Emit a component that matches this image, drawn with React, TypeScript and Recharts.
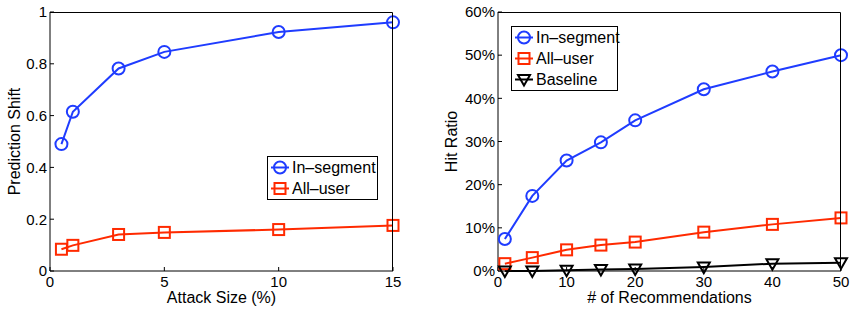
import React from 'react';
import { LineChart, Line, XAxis, YAxis, Legend } from 'recharts';

// left panel: prediction shift vs attack size
const attackSizes = [0.5, 1, 3, 5, 10, 15];
const shiftInSegment = [0.49, 0.615, 0.782, 0.846, 0.923, 0.96];
const shiftAllUser = [0.084, 0.099, 0.141, 0.149, 0.16, 0.176];
const attackTicks = [0, 5, 10, 15];
const shiftTicks = [0, 0.2, 0.4, 0.6, 0.8, 1];

// right panel: hit ratio (%) vs number of recommendations
const recCounts = [1, 5, 10, 15, 20, 30, 40, 50];
const hitInSegment = [7.4, 17.4, 25.6, 29.8, 34.9, 42.1, 46.2, 50];
const hitAllUser = [1.7, 3.1, 4.9, 6.0, 6.7, 9.0, 10.8, 12.3];
const hitBaseline = [0, 0, 0.15, 0.35, 0.45, 0.9, 1.7, 1.9];
const recTicks = [0, 10, 20, 30, 40, 50];
const hitTicks = [0, 10, 20, 30, 40, 50, 60];

const FONT = '"Liberation Sans", Arial, Helvetica, sans-serif';
const BLUE = '#1f3cff';
const RED = '#ff2a00';
const BLACK = '#000000';

const CHART_W = 425;
const CHART_H = 310;
const X_AXIS_H = 31;

type Shape = 'circle' | 'square' | 'triangle';

interface SeriesDef {
  key: string;
  name: string;
  color: string;
  shape: Shape;
}

const leftSeries: SeriesDef[] = [
  { key: 'inSeg', name: 'In–segment', color: BLUE, shape: 'circle' },
  { key: 'allUser', name: 'All–user', color: RED, shape: 'square' },
];

const rightSeries: SeriesDef[] = [
  { key: 'inSeg', name: 'In–segment', color: BLUE, shape: 'circle' },
  { key: 'allUser', name: 'All–user', color: RED, shape: 'square' },
  { key: 'baseline', name: 'Baseline', color: BLACK, shape: 'triangle' },
];

const leftData = attackSizes.map((x, i) => ({
  x,
  inSeg: shiftInSegment[i],
  allUser: shiftAllUser[i],
}));

const rightData = recCounts.map((x, i) => ({
  x,
  inSeg: hitInSegment[i],
  allUser: hitAllUser[i],
  baseline: hitBaseline[i],
}));

const Marker = ({ shape, cx, cy, color }: { shape: Shape; cx: number; cy: number; color: string }) => {
  if (shape === 'circle') {
    return <circle cx={cx} cy={cy} r={6} fill="none" stroke={color} strokeWidth={2} />;
  }
  if (shape === 'square') {
    return <rect x={cx - 5.5} y={cy - 5.5} width={11} height={11} fill="none" stroke={color} strokeWidth={2} />;
  }
  return (
    <polygon
      points={`${cx - 6},${cy - 4.5} ${cx + 6},${cy - 4.5} ${cx},${cy + 6}`}
      fill="none"
      stroke={color}
      strokeWidth={2}
    />
  );
};

const dotFor = (s: SeriesDef) => (props: any) => {
  const { cx, cy, index } = props;
  if (cx == null || cy == null) return <g key={index} />;
  return <Marker key={index} shape={s.shape} cx={cx} cy={cy} color={s.color} />;
};

const LegendBox = ({ items, width }: { items: SeriesDef[]; width: number }) => (
  <div
    style={{
      boxSizing: 'border-box',
      width,
      border: '1px solid #000',
      background: '#fff',
      fontFamily: FONT,
      fontSize: 16,
      color: '#000',
    }}
  >
    {items.map((s) => (
      <div key={s.key} style={{ display: 'flex', alignItems: 'center', height: 21 }}>
        <svg width={24} height={21} style={{ flex: 'none' }}>
          <line x1={3} x2={21} y1={10.5} y2={10.5} stroke={s.color} strokeWidth={2} />
          <Marker shape={s.shape} cx={12} cy={10.5} color={s.color} />
        </svg>
        <span style={{ whiteSpace: 'nowrap' }}>{s.name}</span>
      </div>
    ))}
  </div>
);

type Margin = { top: number; right: number; bottom: number; left: number };

// top and right edges of the matlab-style box around the plot area
const Frame = ({ margin, yAxisWidth }: { margin: Margin; yAxisWidth: number }) => {
  const left = margin.left + yAxisWidth;
  const width = CHART_W - margin.right - left;
  const height = CHART_H - margin.top - margin.bottom - X_AXIS_H;
  return (
    <svg
      width={CHART_W}
      height={CHART_H}
      style={{ position: 'absolute', left: 0, top: 0, zIndex: 10, pointerEvents: 'none' }}
    >
      <polyline
        points={`${left},${margin.top + 0.5} ${left + width - 0.5},${margin.top + 0.5} ${left + width - 0.5},${margin.top + height}`}
        fill="none"
        stroke="#000"
        strokeWidth={1}
      />
    </svg>
  );
};

const axisLine = { stroke: '#000', strokeWidth: 1 };
const tickStyle = { fill: '#000', fontSize: 15 };

const leftMargin: Margin = { top: 12, right: 32, bottom: 8, left: 0 };
const rightMargin: Margin = { top: 12, right: 9, bottom: 8, left: 0 };

export default function App() {
  return (
    <div style={{ position: 'absolute', left: 0, top: 0, width: 850, height: 310, background: '#fff', fontFamily: FONT }}>
      <div style={{ position: 'absolute', left: 0, top: 0, width: CHART_W, height: CHART_H }}>
        <LineChart width={CHART_W} height={CHART_H} data={leftData} margin={leftMargin}>
          <XAxis
            type="number"
            dataKey="x"
            domain={[0, 15]}
            ticks={attackTicks}
            interval={0}
            height={X_AXIS_H}
            tickSize={-4}
            tickMargin={9}
            axisLine={axisLine}
            tickLine={axisLine}
            tick={tickStyle}
            label={{ value: 'Attack Size (%)', position: 'insideBottom', offset: -1, fill: '#000', fontSize: 16 }}
          />
          <YAxis
            type="number"
            domain={[0, 1]}
            ticks={shiftTicks}
            interval={0}
            width={50}
            tickSize={-4}
            tickMargin={7}
            axisLine={axisLine}
            tickLine={axisLine}
            tick={tickStyle}
            label={{
              value: 'Prediction Shift',
              angle: -90,
              position: 'insideLeft',
              offset: 14,
              fill: '#000',
              fontSize: 16,
              style: { textAnchor: 'middle' },
            }}
          />
          {leftSeries.map((s) => (
            <Line
              key={s.key}
              dataKey={s.key}
              name={s.name}
              stroke={s.color}
              strokeWidth={2}
              dot={dotFor(s)}
              activeDot={false}
              isAnimationActive={false}
            />
          ))}
          <Legend
            layout="vertical"
            align="center"
            verticalAlign="middle"
            wrapperStyle={{ left: 267, top: 156, width: 111 }}
            content={() => <LegendBox items={leftSeries} width={111} />}
          />
        </LineChart>
        <Frame margin={leftMargin} yAxisWidth={50} />
      </div>
      <div style={{ position: 'absolute', left: 425, top: 0, width: CHART_W, height: CHART_H }}>
        <LineChart width={CHART_W} height={CHART_H} data={rightData} margin={rightMargin}>
          <XAxis
            type="number"
            dataKey="x"
            domain={[0, 50]}
            ticks={recTicks}
            interval={0}
            height={X_AXIS_H}
            tickSize={-4}
            tickMargin={9}
            axisLine={axisLine}
            tickLine={axisLine}
            tick={tickStyle}
            label={{ value: '# of Recommendations', position: 'insideBottom', offset: -1, fill: '#000', fontSize: 16 }}
          />
          <YAxis
            type="number"
            domain={[0, 60]}
            ticks={hitTicks}
            interval={0}
            width={73}
            tickSize={-4}
            tickMargin={7}
            axisLine={axisLine}
            tickLine={axisLine}
            tick={tickStyle}
            tickFormatter={(v: number) => `${v}%`}
            label={{
              value: 'Hit Ratio',
              angle: -90,
              position: 'insideLeft',
              offset: 26,
              fill: '#000',
              fontSize: 16,
              style: { textAnchor: 'middle' },
            }}
          />
          {rightSeries.map((s) => (
            <Line
              key={s.key}
              dataKey={s.key}
              name={s.name}
              stroke={s.color}
              strokeWidth={2}
              dot={dotFor(s)}
              activeDot={false}
              isAnimationActive={false}
            />
          ))}
          <Legend
            layout="vertical"
            align="center"
            verticalAlign="middle"
            wrapperStyle={{ left: 86, top: 26, width: 107 }}
            content={() => <LegendBox items={rightSeries} width={107} />}
          />
        </LineChart>
        <Frame margin={rightMargin} yAxisWidth={73} />
      </div>
    </div>
  );
}
